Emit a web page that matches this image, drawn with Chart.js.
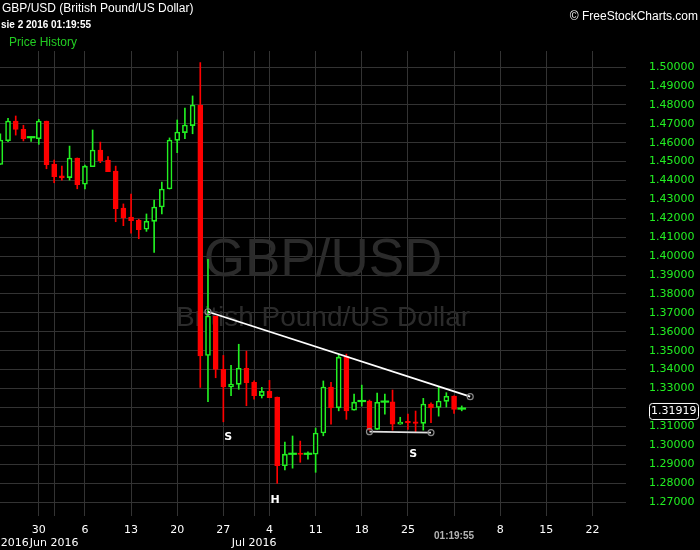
<!DOCTYPE html>
<html>
<head>
<meta charset="utf-8">
<script src="https://cdn.jsdelivr.net/npm/chart.js@4.4.0/dist/chart.umd.min.js"></script>
<style>
  html, body { margin: 0; padding: 0; background: #000; }
  canvas { display: block; }
</style>
</head>
<body>
<canvas id="price-chart" width="700" height="550"></canvas>
<script>
'use strict';

// ******DATA******
// one slot per trading session (Mon-Fri plus the Sunday open)
let dates = [
  'May 24', 'May 25', 'May 26', 'May 27', 'May 29',
  'May 30', 'May 31', 'Jun 1', 'Jun 2', 'Jun 3', 'Jun 5',
  'Jun 6', 'Jun 7', 'Jun 8', 'Jun 9', 'Jun 10', 'Jun 12',
  'Jun 13', 'Jun 14', 'Jun 15', 'Jun 16', 'Jun 17', 'Jun 19',
  'Jun 20', 'Jun 21', 'Jun 22', 'Jun 23', 'Jun 24', 'Jun 26',
  'Jun 27', 'Jun 28', 'Jun 29', 'Jun 30', 'Jul 1', 'Jul 3',
  'Jul 4', 'Jul 5', 'Jul 6', 'Jul 7', 'Jul 8', 'Jul 10',
  'Jul 11', 'Jul 12', 'Jul 13', 'Jul 14', 'Jul 15', 'Jul 17',
  'Jul 18', 'Jul 19', 'Jul 20', 'Jul 21', 'Jul 22', 'Jul 24',
  'Jul 25', 'Jul 26', 'Jul 27', 'Jul 28', 'Jul 29', 'Jul 31',
  'Aug 1', 'Aug 2'
];

let opens = [
  1.4485, 1.4610, 1.4714, 1.4670, 1.4625,
  1.4621, 1.4714, 1.4487, 1.4424, 1.4415, 1.4519,
  1.4380, 1.4473, 1.4561, 1.4508, 1.4450, 1.4254,
  1.4207, 1.4189, 1.4142, 1.4184, 1.4260, 1.4355,
  1.4612, 1.4653, 1.4690, 1.4799, 1.3475, 1.3683,
  1.3401, 1.3309, 1.3322, 1.3407, 1.3333, 1.3262,
  1.3285, 1.3255, 1.2892, 1.2951, 1.2955, 1.2951,
  1.2953, 1.3065, 1.3308, 1.3198, 1.3469, 1.3185,
  1.3230, 1.3234, 1.3084, 1.3227, 1.3229, 1.3111,
  1.3122, 1.3120, 1.3116, 1.3218, 1.3200, 1.3232,
  1.3260, 1.3190
];

let highs = [
  1.4646, 1.4729, 1.4741, 1.4692, 1.4631,
  1.4723, 1.4714, 1.4508, 1.4476, 1.4582, 1.4519,
  1.4482, 1.4667, 1.4603, 1.4526, 1.4476, 1.4276,
  1.4328, 1.4195, 1.4223, 1.4297, 1.4392, 1.4625,
  1.4720, 1.4783, 1.4847, 1.5023, 1.3983, 1.3683,
  1.3475, 1.3423, 1.3534, 1.3498, 1.3341, 1.3306,
  1.3343, 1.3255, 1.3017, 1.3049, 1.3022, 1.2965,
  1.3091, 1.3340, 1.3333, 1.3479, 1.3482, 1.3271,
  1.3318, 1.3239, 1.3276, 1.3271, 1.3292, 1.3148,
  1.3165, 1.3181, 1.3248, 1.3225, 1.3306, 1.3278,
  1.3262, 1.3208
];

let lows = [
  1.4485, 1.4605, 1.4640, 1.4609, 1.4607,
  1.4591, 1.4462, 1.4388, 1.4402, 1.4402, 1.4356,
  1.4356, 1.4473, 1.4494, 1.4446, 1.4182, 1.4161,
  1.4121, 1.4092, 1.4131, 1.4020, 1.4223, 1.4355,
  1.4547, 1.4621, 1.4647, 1.3306, 1.3230, 1.3357,
  1.3124, 1.3262, 1.3296, 1.3209, 1.3244, 1.3250,
  1.3251, 1.2799, 1.2869, 1.2879, 1.2910, 1.2927,
  1.2857, 1.3050, 1.3111, 1.3182, 1.3137, 1.3185,
  1.3207, 1.3080, 1.3084, 1.3165, 1.3080, 1.3111,
  1.3084, 1.3071, 1.3080, 1.3119, 1.3154, 1.3202,
  1.3169, 1.3182
];

let closes = [
  1.4614, 1.4714, 1.4670, 1.4621, 1.4626,
  1.4714, 1.4483, 1.4420, 1.4413, 1.4519, 1.4378,
  1.4476, 1.4561, 1.4505, 1.4446, 1.4251, 1.4203,
  1.4187, 1.4140, 1.4184, 1.4260, 1.4355, 1.4614,
  1.4656, 1.4693, 1.4799, 1.3472, 1.3683, 1.3401,
  1.3309, 1.3324, 1.3407, 1.3331, 1.3262, 1.3285,
  1.3251, 1.2892, 1.2953, 1.2953, 1.2951, 1.2953,
  1.3065, 1.3308, 1.3198, 1.3466, 1.3182, 1.3228,
  1.3232, 1.3084, 1.3227, 1.3229, 1.3111, 1.3123,
  1.3118, 1.3116, 1.3218, 1.3198, 1.3234, 1.3259,
  1.3190, 1.3192
];

let firstSlot = -5;          // slot number of dates[0]; slot 0 = Mon May 30
let lastPrice = 1.31919;

// x axis: Monday slots and their day labels
let weekSlots = [0, 6, 12, 18, 24, 30, 36, 42, 48, 54, 60, 66, 72];
let weekLabels = ['30', '6', '13', '20', '27', '4', '11', '18', '25', '', '8', '15', '22'];
let monthSlots = [2, 28];
let monthLabels = ['Jun 2016', 'Jul 2016'];
let cursorSlot = 54;
let cursorTime = '01:19:55';

// y axis ticks
let priceTicks = [1.27, 1.28, 1.29, 1.30, 1.31, 1.32, 1.33, 1.34, 1.35, 1.36, 1.37, 1.38,
  1.39, 1.40, 1.41, 1.42, 1.43, 1.44, 1.45, 1.46, 1.47, 1.48, 1.49, 1.50];
let hiddenTick = 1.32;

// drawn lines and pattern marks
let resistLine = [[22, 1.3706], [56.1, 1.3257]];
let supportLine = [[43, 1.3072], [51, 1.3067]];
let patternMarks = [['S', 24.64, 1.3042], ['H', 30.72, 1.2711], ['S', 48.7, 1.2954]];

// ******STYLE******
const UP = '#22f022';
const DOWN = '#ff0000';
const GRID = '#333333';

function isUp(i) {
  return closes[i] >= opens[i];
}

// open and close almost equal: drawn as a wide flat dash
function isDoji(i) {
  return Math.abs(closes[i] - opens[i]) < 0.0003;
}

let wickData = [];
let bodyData = [];
let dojiData = [];
let candleColors = [];
let bodyFills = [];
for (let i = 0; i < dates.length; i++) {
  let slot = i + firstSlot;
  wickData.push({ x: slot, y: [lows[i], highs[i]] });
  candleColors.push(isUp(i) ? UP : DOWN);
  bodyFills.push(isUp(i) ? '#000000' : DOWN);
  if (isDoji(i)) {
    bodyData.push({ x: slot, y: null });
    dojiData.push({ x: slot, y: [opens[i], closes[i]] });
  } else {
    bodyData.push({ x: slot, y: [opens[i], closes[i]] });
    dojiData.push({ x: slot, y: null });
  }
}

// ******PLUGIN: texts, watermark, drawn lines******
let decorations = {
  id: 'decorations',
  beforeDatasetsDraw(chart) {
    let ctx = chart.ctx;
    ctx.save();
    ctx.fillStyle = '#2b2b2b';
    ctx.textAlign = 'center';
    ctx.textBaseline = 'middle';
    ctx.font = '53px "Liberation Sans", Arial, sans-serif';
    ctx.fillText('GBP/USD', 323, 261);
    ctx.font = '28px "Liberation Sans", Arial, sans-serif';
    ctx.fillText('British Pound/US Dollar', 323, 318);
    ctx.restore();
  },
  afterDatasetsDraw(chart) {
    let ctx = chart.ctx;
    let xs = chart.scales.x;
    let ys = chart.scales.y;
    ctx.save();

    function drawLine(pts, color) {
      let x1 = xs.getPixelForValue(pts[0][0]);
      let y1 = ys.getPixelForValue(pts[0][1]);
      let x2 = xs.getPixelForValue(pts[1][0]);
      let y2 = ys.getPixelForValue(pts[1][1]);
      ctx.strokeStyle = color;
      ctx.lineWidth = 1.8;
      ctx.beginPath();
      ctx.moveTo(x1, y1);
      ctx.lineTo(x2, y2);
      ctx.stroke();
      ctx.strokeStyle = '#8a8a8a';
      ctx.lineWidth = 1.2;
      [[x1, y1], [x2, y2]].forEach(p => {
        ctx.beginPath();
        ctx.arc(p[0], p[1], 3, 0, Math.PI * 2);
        ctx.stroke();
      });
    }
    drawLine(resistLine, '#ffffff');
    drawLine(supportLine, '#e0e0e0');

    ctx.fillStyle = '#ffffff';
    ctx.font = 'bold 11px "DejaVu Sans", sans-serif';
    ctx.textAlign = 'center';
    ctx.textBaseline = 'middle';
    patternMarks.forEach(m => {
      ctx.fillText(m[0], xs.getPixelForValue(m[1]), ys.getPixelForValue(m[2]));
    });
    ctx.restore();
  },
  afterDraw(chart) {
    let ctx = chart.ctx;
    let xs = chart.scales.x;
    let ys = chart.scales.y;
    ctx.save();
    ctx.textBaseline = 'middle';

    // header
    ctx.fillStyle = '#ffffff';
    ctx.textAlign = 'left';
    ctx.font = '12px "Liberation Sans", Arial, sans-serif';
    ctx.fillText('GBP/USD (British Pound/US Dollar)', 2, 9);
    ctx.font = 'bold 10px "Liberation Sans", Arial, sans-serif';
    ctx.fillText('sie 2 2016 01:19:55', 1, 25);
    ctx.fillStyle = '#22cc22';
    ctx.font = '12px "Liberation Sans", Arial, sans-serif';
    ctx.fillText('Price History', 9, 43);
    ctx.fillStyle = '#ffffff';
    ctx.textAlign = 'right';
    ctx.fillText('\u00a9 FreeStockCharts.com', 698, 17);

    // x axis labels
    ctx.textAlign = 'center';
    ctx.font = '11px "DejaVu Sans", sans-serif';
    for (let i = 0; i < weekSlots.length; i++) {
      ctx.fillText(weekLabels[i], xs.getPixelForValue(weekSlots[i]), 530);
    }
    let firstMonthLeft = 0;
    for (let i = 0; i < monthSlots.length; i++) {
      let mx = xs.getPixelForValue(monthSlots[i]);
      ctx.fillText(monthLabels[i], mx, 543);
      if (i === 0) {
        firstMonthLeft = mx - ctx.measureText(monthLabels[i]).width / 2;
      }
    }
    ctx.textAlign = 'right';
    ctx.fillText('May 2016', firstMonthLeft - 1, 543);

    ctx.textAlign = 'center';
    ctx.fillStyle = '#b4b4b4';
    ctx.font = 'bold 10px "Liberation Sans", Arial, sans-serif';
    ctx.fillText(cursorTime, xs.getPixelForValue(cursorSlot), 536);

    // last price box
    let py = ys.getPixelForValue(lastPrice) + 2;
    ctx.fillStyle = '#000000';
    ctx.strokeStyle = '#ffffff';
    ctx.lineWidth = 1;
    ctx.beginPath();
    ctx.roundRect(649.5, py - 7.5, 49, 16, 3);
    ctx.fill();
    ctx.stroke();
    ctx.fillStyle = '#ffffff';
    ctx.textAlign = 'left';
    ctx.font = '11px "DejaVu Sans", sans-serif';
    ctx.fillText(lastPrice.toFixed(5), 651, py + 0.5);
    ctx.restore();
  }
};

// ******CHART******
let canvasElem = document.getElementById('price-chart').getContext('2d');

let myChartObj = {
  type: 'bar',
  data: {
    labels: dates,
    datasets: [{
      label: 'body',
      data: bodyData,
      backgroundColor: bodyFills,
      borderColor: candleColors,
      borderWidth: 1.6,
      borderSkipped: false,
      barThickness: 5,
      minBarLength: 1.5,
      grouped: false,
      order: 0
    },
    {
      label: 'doji',
      data: dojiData,
      backgroundColor: candleColors,
      borderWidth: 0,
      barThickness: 8,
      minBarLength: 1.5,
      grouped: false,
      order: 0
    },
    {
      label: 'wick',
      data: wickData,
      backgroundColor: candleColors,
      borderWidth: 0,
      barThickness: 1,
      minBarLength: 1,
      grouped: false,
      order: 1
    }]
  },
  options: {
    responsive: false,
    animation: false,
    devicePixelRatio: 1,
    layout: { padding: { top: 51, bottom: 34, left: 0, right: 0 } },
    plugins: {
      legend: { display: false },
      tooltip: { enabled: false }
    },
    scales: {
      x: {
        type: 'linear',
        min: -5.045,
        max: 76.36,
        offset: false,
        grid: { color: GRID, drawTicks: false, lineWidth: 1, offset: false },
        border: { display: false },
        ticks: { display: false },
        afterBuildTicks: axis => {
          let slots = weekSlots.concat(monthSlots);
          axis.ticks = slots.map(v => ({ value: v }));
        },
        afterFit: axis => { axis.height = 0; }
      },
      y: {
        position: 'right',
        min: 1.2626,
        max: 1.50846,
        grid: { color: GRID, drawTicks: false, lineWidth: 1 },
        border: { display: false },
        ticks: {
          color: '#22ee22',
          padding: 23,
          font: { family: '"DejaVu Sans", sans-serif', size: 11 },
          callback: v => (Math.abs(v - hiddenTick) < 1e-6 ? '' : v.toFixed(5))
        },
        afterBuildTicks: axis => {
          axis.ticks = priceTicks.map(v => ({ value: v }));
        },
        afterFit: axis => { axis.width = 74; }
      }
    }
  },
  plugins: [decorations]
};

new Chart(canvasElem, myChartObj);
</script>
</body>
</html>
